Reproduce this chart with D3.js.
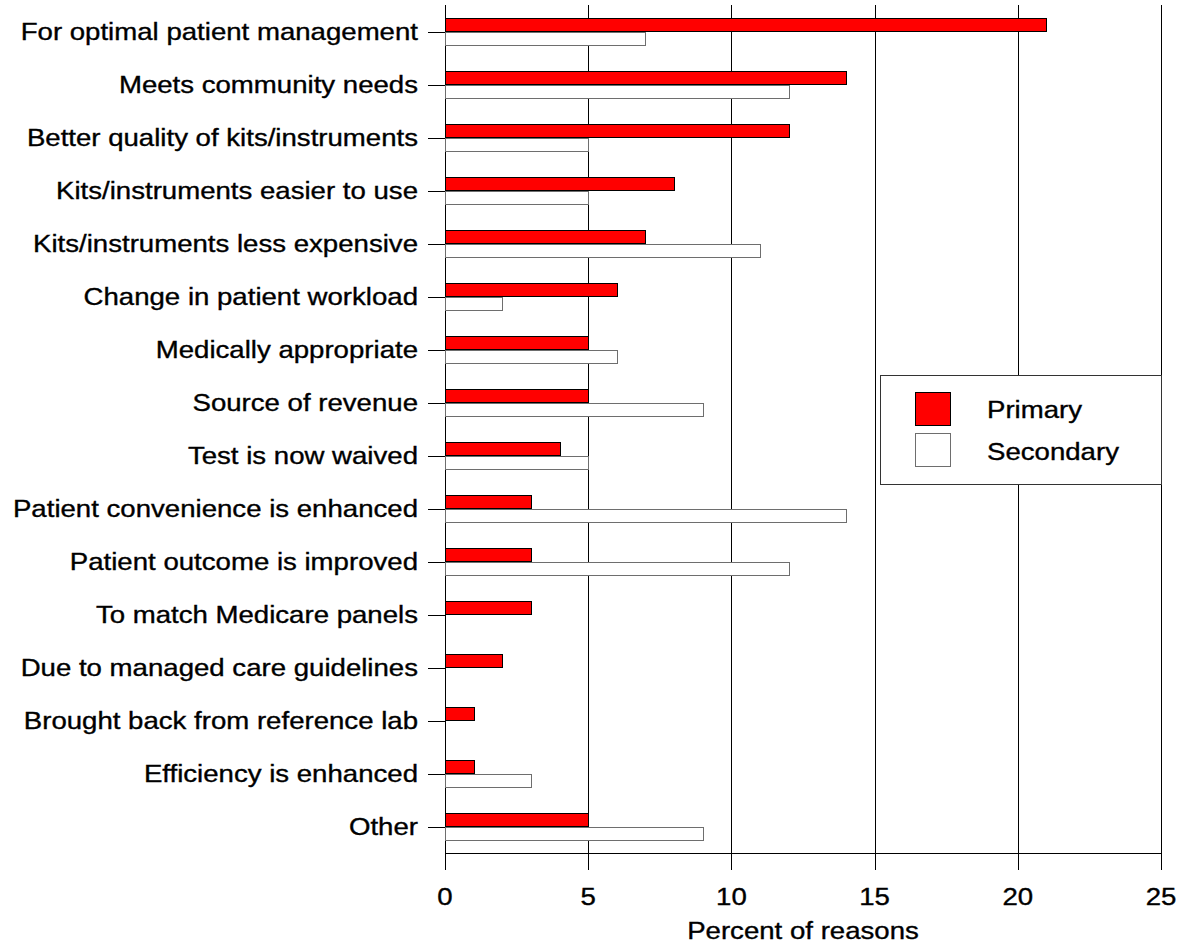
<!DOCTYPE html>
<html>
<head>
<meta charset="utf-8">
<script src="https://cdn.jsdelivr.net/npm/d3@7"></script>
<style>
  body { margin: 0; background: #fff; }
  svg { display: block; }
  text { font-family: "Liberation Sans", Arial, sans-serif; fill: #000; stroke: #000; stroke-width: 0.35px; }
</style>
</head>
<body>
<svg id="chart" width="1186" height="945"></svg>
<script>
// reasons, top to bottom
const reasons = [
    "For optimal patient management",
    "Meets community needs",
    "Better quality of kits/instruments",
    "Kits/instruments easier to use",
    "Kits/instruments less expensive",
    "Change in patient workload",
    "Medically appropriate",
    "Source of revenue",
    "Test is now waived",
    "Patient convenience is enhanced",
    "Patient outcome is improved",
    "To match Medicare panels",
    "Due to managed care guidelines",
    "Brought back from reference lab",
    "Efficiency is enhanced",
    "Other"
];
const primary   = [21, 14, 12, 8, 7, 6, 5, 5, 4, 3, 3, 3, 2, 1, 1, 5];
const secondary = [7, 12, 5, 5, 11, 2, 6, 9, 5, 14, 12, 0, 0, 0, 3, 9];
const seriesNames = ["Primary", "Secondary"];
const xTicks = [0, 5, 10, 15, 20, 25];

const svg = d3.select('#chart');

// plot box
const plotLeft = 445, plotRight = 1161, plotTop = 5, plotBottom = 853;
const fontSize = 24, stretch = 1.15;   // the original text runs a bit wide

const x = d3.scaleLinear().domain([0, 25]).range([plotLeft, plotRight]);
const y = d3.scaleBand().domain(reasons).range([plotTop, plotBottom]).padding(0);
const ySeries = d3.scaleBand().domain(seriesNames)
                  .range([y.bandwidth() / 4, y.bandwidth() * 3 / 4]);
const fills = {"Primary": "#ff0000", "Secondary": "#ffffff"};
const strokes = {"Primary": "#000000", "Secondary": "#6e6e6e"};

const px = v => Math.round(v) + 0.5;

// helper for stretched text
function addText(g, tx, ty, str, anchor) {
    return g.append('text')
        .attr('transform', 'translate(' + tx + ',' + ty + ') scale(' + stretch + ',1)')
        .attr('text-anchor', anchor)
        .style('font-size', fontSize + 'px')
        .text(str);
}

// vertical grid lines
svg.append('g').selectAll('line')
    .data(xTicks)
    .enter().append('line')
    .attr('x1', d => px(x(d))).attr('x2', d => px(x(d)))
    .attr('y1', plotTop).attr('y2', plotBottom + 17)
    .attr('stroke', '#000').attr('stroke-width', 1);

// x axis line
svg.append('line')
    .attr('x1', plotLeft).attr('x2', px(plotRight))
    .attr('y1', px(plotBottom)).attr('y2', px(plotBottom))
    .attr('stroke', '#000');

// bars
const rows = [];
reasons.forEach((r, i) => {
    rows.push({reason: r, series: "Primary", value: primary[i]});
    rows.push({reason: r, series: "Secondary", value: secondary[i]});
});

svg.append('g').selectAll('rect')
    .data(rows)
    .enter().append('rect')
    .attr('x', px(x(0)))
    .attr('y', d => px(y(d.reason) + ySeries(d.series)))
    .attr('width', d => Math.round(x(d.value) - x(0)))
    .attr('height', Math.round(ySeries.bandwidth()))
    .attr('fill', d => fills[d.series])
    .attr('stroke', d => d.value === 0 ? '#000' : strokes[d.series])
    .attr('stroke-width', d => d.value === 0 ? 2 : 1);

// y ticks and labels
const yAxis = svg.append('g');
reasons.forEach(r => {
    const cy = y(r) + y.bandwidth() / 2;
    yAxis.append('line')
        .attr('x1', plotLeft - 17).attr('x2', plotLeft)
        .attr('y1', px(cy)).attr('y2', px(cy))
        .attr('stroke', '#000');
    addText(yAxis, 418, cy + 8.5, r, 'end');
});

// x tick labels
const xAxis = svg.append('g');
xTicks.forEach(t => addText(xAxis, x(t), 905, t, 'middle'));
addText(xAxis, (plotLeft + plotRight) / 2, 939, "Percent of reasons", 'middle');

// legend
const legend = svg.append('g');
legend.append('rect')
    .attr('x', 880.5).attr('y', 375.5).attr('width', 281).attr('height', 109)
    .attr('fill', '#fff').attr('stroke', '#333');
seriesNames.forEach((s, i) => {
    legend.append('rect')
        .attr('x', 915.5).attr('y', 392.5 + i * 41).attr('width', 35).attr('height', 33)
        .attr('fill', fills[s]).attr('stroke', strokes[s]);
    addText(legend, 987, 418 + i * 42, s, 'start');
});
</script>
</body>
</html>
